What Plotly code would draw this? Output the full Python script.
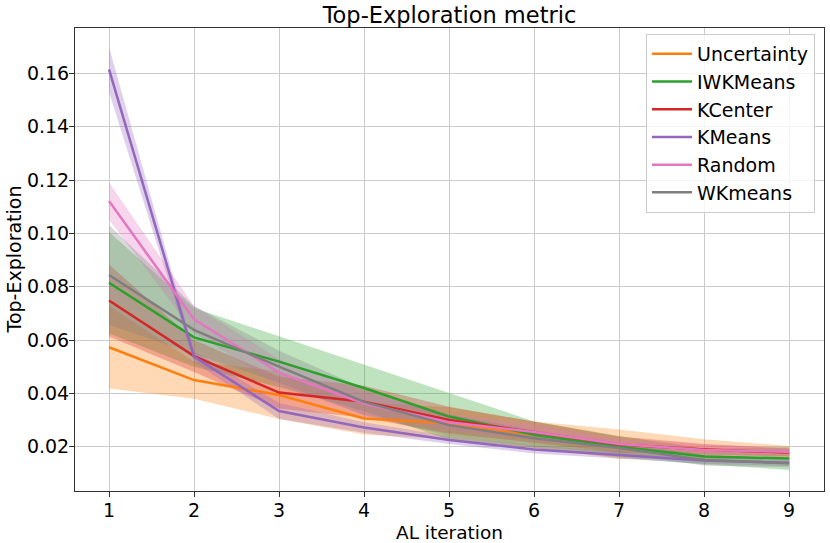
import plotly.graph_objects as go

iterations = [1, 2, 3, 4, 5, 6, 7, 8, 9]

series_names = ["Uncertainty", "IWKMeans", "KCenter", "KMeans", "Random", "WKmeans"]

uncertainty_mean = [0.0573, 0.0450, 0.0394, 0.0306, 0.0288, 0.0245, 0.0210, 0.0190, 0.0180]
uncertainty_std = [0.0155, 0.0070, 0.0090, 0.0060, 0.0060, 0.0050, 0.0055, 0.0038, 0.0023]

iwkmeans_mean = [0.0815, 0.0610, 0.0519, 0.0420, 0.0313, 0.0245, 0.0200, 0.0163, 0.0156]
iwkmeans_std = [0.0190, 0.0110, 0.0095, 0.0087, 0.0087, 0.0050, 0.0040, 0.0030, 0.0043]

kcenter_mean = [0.0748, 0.0540, 0.0403, 0.0369, 0.0300, 0.0255, 0.0208, 0.0190, 0.0178]
kcenter_std = [0.0135, 0.0060, 0.0060, 0.0060, 0.0050, 0.0040, 0.0030, 0.0020, 0.0015]

kmeans_mean = [0.1615, 0.0538, 0.0334, 0.0272, 0.0225, 0.0190, 0.0169, 0.0148, 0.0140]
kmeans_std = [0.0085, 0.0020, 0.0030, 0.0020, 0.0015, 0.0015, 0.0013, 0.0012, 0.0012]

random_mean = [0.1121, 0.0678, 0.0478, 0.0362, 0.0292, 0.0255, 0.0210, 0.0188, 0.0181]
random_std = [0.0070, 0.0050, 0.0050, 0.0040, 0.0030, 0.0030, 0.0020, 0.0020, 0.0015]

wkmeans_mean = [0.0844, 0.0638, 0.0500, 0.0368, 0.0281, 0.0232, 0.0195, 0.0150, 0.0138]
wkmeans_std = [0.0187, 0.0090, 0.0060, 0.0050, 0.0040, 0.0030, 0.0020, 0.0020, 0.0015]

means = [uncertainty_mean, iwkmeans_mean, kcenter_mean, kmeans_mean, random_mean, wkmeans_mean]
stds = [uncertainty_std, iwkmeans_std, kcenter_std, kmeans_std, random_std, wkmeans_std]
colors = ["#ff7f0e", "#2ca02c", "#d62728", "#9467bd", "#e377c2", "#7f7f7f"]
fills = ["rgba(255,127,14,0.3)", "rgba(44,160,44,0.3)", "rgba(214,39,40,0.3)",
         "rgba(148,103,189,0.3)", "rgba(227,119,194,0.3)", "rgba(127,127,127,0.3)"]

fig = go.Figure()

for m, s, fc in zip(means, stds, fills):
    upper = [a + b for a, b in zip(m, s)]
    lower = [a - b for a, b in zip(m, s)]
    fig.add_trace(go.Scatter(
        x=iterations + iterations[::-1],
        y=upper + lower[::-1],
        fill="toself", fillcolor=fc, mode="lines",
        line=dict(width=0, color=fc), showlegend=False, hoverinfo="skip"))

for name, m, c in zip(series_names, means, colors):
    fig.add_trace(go.Scatter(x=iterations, y=m, mode="lines", name=name,
                             line=dict(color=c, width=2.5)))

W, H = 830, 543
L, R, T, B = 75, 6, 28, 52
pw, ph = W - L - R, H - T - B

font_family = "DejaVu Sans"
fig.update_layout(
    width=W, height=H,
    margin=dict(l=L, r=R, t=T, b=B, autoexpand=False),
    paper_bgcolor="white", plot_bgcolor="white",
    font=dict(family=font_family, size=19, color="black"),
    title=dict(text="Top-Exploration metric", x=0.5, xref="paper", xanchor="center",
               y=1 - 15 / H, yanchor="middle", font=dict(size=22.5, color="black")),
    legend=dict(x=(815 - L) / pw, xanchor="right", y=(H - B - 34) / ph, yanchor="top",
                bgcolor="rgba(255,255,255,0.8)", bordercolor="#cccccc", borderwidth=1,
                itemwidth=40, font=dict(size=19)),
    showlegend=True,
    annotations=[
        dict(text="AL iteration", xref="paper", yref="paper",
             x=0.5, y=-(532 - (H - B)) / ph, xanchor="center", yanchor="middle",
             showarrow=False, borderpad=0, font=dict(size=18.5, color="black")),
        dict(text="Top-Exploration", xref="paper", yref="paper", textangle=-90,
             x=-(L - 13) / pw, y=0.5, xanchor="center", yanchor="middle",
             showarrow=False, font=dict(size=19, color="black")),
    ],
)

fig.update_xaxes(range=[0.6, 9.41], tickmode="array", tickvals=iterations,
                 ticktext=[str(i) for i in iterations], automargin=False,
                 ticklabelstandoff=-3,
                 showgrid=True, gridcolor="#cccccc", gridwidth=1,
                 showline=True, linecolor="#333333", linewidth=1, mirror=True,
                 ticks="outside", ticklen=5, tickcolor="#333333",
                 zeroline=False)

fig.update_yaxes(range=[0.0034, 0.177], tick0=0.02, dtick=0.02, tickformat=".2f",
                 automargin=False, ticklabelstandoff=-4,
                 showgrid=True, gridcolor="#cccccc", gridwidth=1,
                 showline=True, linecolor="#333333", linewidth=1, mirror=True,
                 ticks="outside", ticklen=5, tickcolor="#333333",
                 zeroline=False)

fig.write_html("out.html", config={"displayModeBar": False},
               post_script="document.body.style.margin='0';document.body.style.overflow='hidden';")
